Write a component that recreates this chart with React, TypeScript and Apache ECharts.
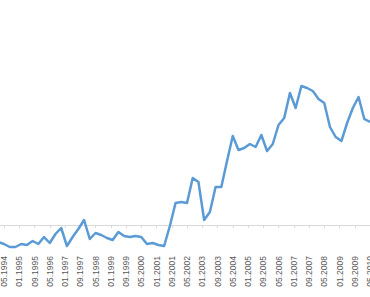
import React, { useEffect, useRef } from "react";
import * as echarts from "echarts";

// Quarterly observation dates (MM.YYYY)
const dates: string[] = [
  "02.1994", "05.1994", "08.1994", "11.1994",
  "02.1995", "05.1995", "08.1995", "11.1995",
  "02.1996", "05.1996", "08.1996", "11.1996",
  "02.1997", "05.1997", "08.1997", "11.1997",
  "02.1998", "05.1998", "08.1998", "11.1998",
  "02.1999", "05.1999", "08.1999", "11.1999",
  "02.2000", "05.2000", "08.2000", "11.2000",
  "02.2001", "05.2001", "08.2001", "11.2001",
  "02.2002", "05.2002", "08.2002", "11.2002",
  "02.2003", "05.2003", "08.2003", "11.2003",
  "02.2004", "05.2004", "08.2004", "11.2004",
  "02.2005", "05.2005", "08.2005", "11.2005",
  "02.2006", "05.2006", "08.2006", "11.2006",
  "02.2007", "05.2007", "08.2007", "11.2007",
  "02.2008", "05.2008", "08.2008", "11.2008",
  "02.2009", "05.2009", "08.2009", "11.2009",
  "02.2010", "05.2010",
];

// Values
const values: number[] = [
  -17, -19, -22, -22,
  -19, -20, -16, -19,
  -12, -18, -9, -3,
  -21, -12, -4, 5,
  -14, -8, -10, -13,
  -15, -7, -11, -12,
  -11, -12, -19, -18,
  -20, -21, -1, 22,
  23, 22, 47, 43,
  5, 13, 38, 38,
  64, 89, 75, 77,
  81, 78, 90, 74,
  81, 100, 107, 132,
  117, 139, 137, 134,
  126, 122, 98, 88,
  84, 102, 117, 128,
  106, 103,
];

const BASE_MONTH = 1994 * 12 + 4; // 05.1994
const LABEL_STEP = 8; // months between axis labels

function monthOffset(d: string): number {
  const [mm, yyyy] = d.split(".").map(Number);
  return yyyy * 12 + (mm - 1) - BASE_MONTH;
}

function offsetToLabel(off: number): string {
  const m = BASE_MONTH + Math.round(off);
  const y = Math.floor(m / 12);
  const mo = (m % 12) + 1;
  return (mo < 10 ? "0" : "") + mo + "." + y;
}

export default function App() {
  const ref = useRef<HTMLDivElement>(null);

  useEffect(() => {
    if (!ref.current) return;
    const chart = echarts.init(ref.current, undefined, { renderer: "svg" });
    const data = dates.map((d, i) => [monthOffset(d), values[i]]);
    chart.setOption({
      animation: false,
      grid: {
        left: -11.25,
        right: -15.25,
        top: 0,
        bottom: 47,
        containLabel: false,
        outerBoundsMode: "none",
      },
      xAxis: {
        type: "value",
        min: -8,
        max: 200,
        interval: LABEL_STEP,
        axisLine: { show: true, onZero: true, lineStyle: { color: "#d9d9d9", width: 1 } },
        axisTick: { show: true, length: 3, lineStyle: { color: "#d9d9d9" } },
        splitLine: { show: false },
        axisLabel: {
          rotate: 90,
          margin: 6,
          color: "#595959",
          fontSize: 8.5,
          fontFamily: "Liberation Sans, Arial, sans-serif",
          showMinLabel: false,
          showMaxLabel: false,
          formatter: (v: number) => offsetToLabel(v),
        },
      },
      yAxis: {
        type: "value",
        min: -25,
        max: 225,
        show: false,
        splitLine: { show: false },
      },
      series: [
        {
          type: "line",
          data,
          symbol: "none",
          smooth: false,
          lineStyle: { color: "#5b9bd5", width: 2.5, join: "round" },
          itemStyle: { color: "#5b9bd5" },
        },
      ],
    });
    return () => chart.dispose();
  }, []);

  return (
    <div
      ref={ref}
      style={{ position: "fixed", left: 0, top: 0, width: 370, height: 297, background: "#fff" }}
    />
  );
}
